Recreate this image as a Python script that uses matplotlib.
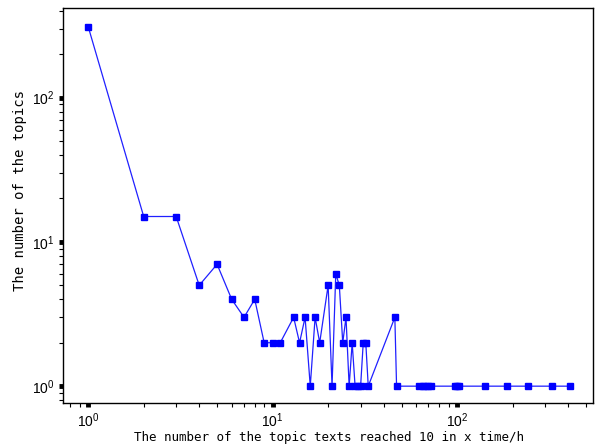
import numpy as np
import matplotlib.pyplot as plt

plt.rcParams['font.family'] = ['Liberation Sans', 'DejaVu Sans']
plt.rcParams['mathtext.fontset'] = 'custom'
plt.rcParams['mathtext.rm'] = 'Liberation Sans'
plt.rcParams['mathtext.it'] = 'Liberation Sans'

# hours needed to reach 10 texts
hours = [1, 2, 3, 4, 5, 6, 7, 8, 9, 10, 11, 13, 14, 15, 16, 17, 18, 20, 21, 22,
         23, 24, 25, 26, 27, 28, 29, 30, 31, 32, 33, 46, 47, 62, 65, 67, 70, 72,
         97, 100, 103, 142, 187, 243, 327, 410]
# number of topics
topics = [311, 15, 15, 5, 7, 4, 3, 4, 2, 2, 2, 3, 2, 3, 1, 3, 2, 5, 1, 6,
          5, 2, 3, 1, 2, 1, 1, 1, 2, 2, 1, 3, 1, 1, 1, 1, 1, 1,
          1, 1, 1, 1, 1, 1, 1, 1]

fig = plt.figure(figsize=(5.96, 4.47), dpi=100)
ax = fig.add_axes([0.106, 0.098, 0.889, 0.883])

ax.plot(hours, topics, color='#2020ff', lw=0.9, marker='s', markersize=4.3,
        markerfacecolor='#0000ff', markeredgecolor='#0000ff')

ax.set_xscale('log')
ax.set_yscale('log')
ax.set_xlim(0.732, 546)
ax.set_ylim(0.762, 415)

ax.tick_params(which='major', direction='out', length=3, width=3.5,
               labelsize=10, color='black', pad=3)
ax.tick_params(which='minor', direction='out', length=3, width=0.8)
ax.tick_params(top=False, right=False, which='both')

for s in ax.spines.values():
    s.set_linewidth(1.0)

mono = ['DejaVu Sans Mono']
ax.set_xlabel('The number of the topic texts reached 10 in x time/h',
              family=mono, fontsize=9.0)
ax.xaxis.set_label_coords(0.502, -0.07)
ax.set_ylabel('The number of the topics', family=mono, fontsize=10)
ax.yaxis.set_label_coords(-0.069, 0.54)

fig.savefig('out.png', dpi=100)
